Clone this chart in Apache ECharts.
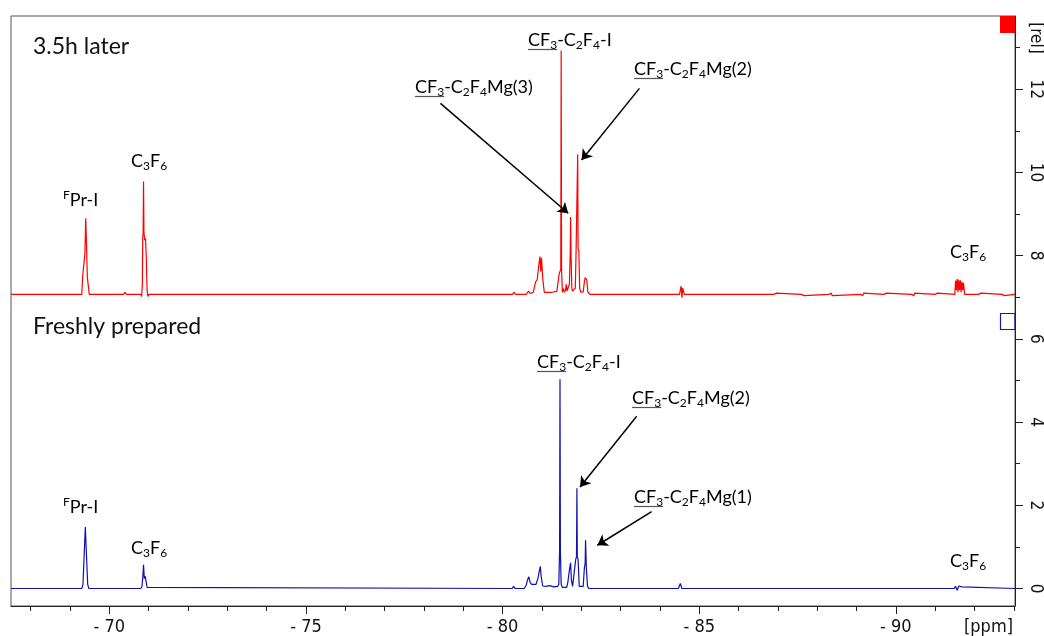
<!DOCTYPE html>
<html>
<head>
<meta charset="utf-8">
<script src="https://cdn.jsdelivr.net/npm/echarts@6/dist/echarts.min.js"></script>
<style>
html, body { margin: 0; padding: 0; background: #fff; }
#nmr { width: 1044px; height: 636px; }
</style>
</head>
<body>
<div id="nmr"></div>
<script>
// 19F spectra: [ppm, intensity], red trace is stacked above the blue one
var redOffset = 7.07;

var redSpectrum = [
  [-67.5, 0], [-69.30, 0], [-69.32, 0.40], [-69.36, 0.42], [-69.38, 1.0], [-69.40, 1.83], [-69.42, 1.2],
  [-69.44, 0.42], [-69.47, 0.40], [-69.49, 0],
  [-70.36, 0], [-70.40, 0.05], [-70.44, 0],
  [-70.80, 0], [-70.82, -0.05], [-70.84, 0.2], [-70.85, 1.4], [-70.86, 1.45], [-70.87, 2.71], [-70.88, 1.5],
  [-70.90, 1.3], [-70.92, 1.35], [-70.94, 0.9], [-70.96, 0.1], [-70.98, -0.05], [-71.01, 0],
  [-80.25, 0], [-80.29, 0.05], [-80.33, 0],
  [-80.60, 0], [-80.66, 0.08], [-80.70, 0.02],
  [-80.78, 0.05], [-80.84, 0.30], [-80.88, 0.35], [-80.92, 0.70], [-80.95, 0.91], [-80.97, 0.55], [-80.99, 0.88],
  [-81.02, 0.40], [-81.06, 0.05], [-81.10, 0.06], [-81.25, 0.05], [-81.38, 0.07], [-81.42, 0.08],
  [-81.44, 0.50], [-81.46, 0.52], [-81.48, 0.6], [-81.49, 5.86], [-81.50, 0.6], [-81.52, 0.05],
  [-81.55, 0.14], [-81.57, 0.05], [-81.60, 0.1], [-81.62, 0.24], [-81.64, 0.08], [-81.67, 0.06],
  [-81.70, 0.25], [-81.72, 1.0], [-81.73, 1.86], [-81.74, 1.0], [-81.76, 0.15], [-81.78, 0.08],
  [-81.85, 0.15], [-81.87, 1.09], [-81.89, 1.12], [-81.91, 3.37], [-81.92, 1.10], [-81.94, 1.05], [-81.96, 0.15],
  [-81.99, 0.05], [-82.05, 0.06], [-82.08, 0.30], [-82.10, 0.40], [-82.12, 0.43], [-82.14, 0.35], [-82.17, 0.05],
  [-82.22, 0],
  [-82.92, 0], [-82.96, 0.04], [-83.0, 0],
  [-84.50, 0], [-84.54, 0.20], [-84.56, -0.08], [-84.58, 0.15], [-84.62, 0],
  [-86.90, 0], [-86.92, 0.03], [-86.94, -0.03], [-86.96, 0.03], [-86.98, 0],
  [-87.60, 0], [-87.62, -0.03], [-87.64, 0.03], [-87.66, -0.03], [-87.68, 0],
  [-88.30, 0], [-88.32, 0.03], [-88.34, -0.03], [-88.36, 0.03], [-88.38, -0.03], [-88.40, 0],
  [-89.10, 0], [-89.12, -0.03], [-89.14, 0.03], [-89.16, -0.03], [-89.18, 0.03], [-89.20, 0],
  [-89.70, 0], [-89.72, 0.03], [-89.74, -0.03], [-89.76, 0.03], [-89.78, 0],
  [-90.40, 0], [-90.42, -0.03], [-90.44, 0.03], [-90.46, -0.03], [-90.48, 0.03], [-90.50, 0],
  [-91.00, 0], [-91.02, 0.03], [-91.04, -0.03], [-91.06, 0.03], [-91.08, 0],
  [-91.50, 0], [-91.52, 0.33], [-91.54, 0.1], [-91.56, 0.37], [-91.58, 0.05], [-91.60, 0.35], [-91.62, 0.1],
  [-91.64, 0.34], [-91.66, 0.05], [-91.68, 0.30], [-91.70, 0.1], [-91.72, 0.28], [-91.75, 0],
  [-92.10, 0], [-92.12, 0.03], [-92.14, -0.03], [-92.16, 0.03], [-92.18, 0],
  [-92.70, 0], [-92.72, -0.03], [-92.74, 0.03], [-92.76, -0.03], [-92.78, 0], [-93.03, 0]
];

var blueSpectrum = [
  [-67.5, 0], [-69.30, 0], [-69.33, 0.1], [-69.35, 0.56], [-69.37, 0.6], [-69.39, 1.48], [-69.41, 1.48],
  [-69.43, 0.56], [-69.45, 0.1], [-69.48, 0],
  [-70.80, 0], [-70.83, 0.05], [-70.85, 0.25], [-70.87, 0.57], [-70.89, 0.24], [-70.91, 0.3], [-70.93, 0.2],
  [-70.96, 0.03], [-70.99, 0],
  [-80.24, 0], [-80.28, 0.05], [-80.32, 0],
  [-80.55, 0], [-80.60, 0.08], [-80.64, 0.22], [-80.67, 0.28], [-80.70, 0.15], [-80.74, 0.10],
  [-80.85, 0.1], [-80.90, 0.25], [-80.94, 0.45], [-80.96, 0.53], [-80.98, 0.3], [-81.02, 0.06],
  [-81.10, 0.05], [-81.20, 0.07], [-81.30, 0.04], [-81.40, 0.05],
  [-81.43, 0.1], [-81.45, 0.92], [-81.46, 5.03], [-81.47, 0.92], [-81.49, 0.1], [-81.52, 0.03],
  [-81.63, 0.03], [-81.66, 0.15], [-81.70, 0.45], [-81.73, 0.62], [-81.75, 0.2], [-81.78, 0.05],
  [-81.83, 0.05], [-81.86, 0.7], [-81.88, 0.76], [-81.89, 2.41], [-81.90, 0.76], [-81.92, 0.7], [-81.95, 0.05],
  [-82.05, 0.05], [-82.08, 0.5], [-82.10, 0.6], [-82.11, 1.16], [-82.13, 0.5], [-82.16, 0.05], [-82.20, 0],
  [-84.47, 0], [-84.52, 0.12], [-84.56, 0],
  [-91.48, 0], [-91.52, 0.05], [-91.56, -0.04], [-91.60, 0.06], [-91.64, 0.02], [-91.68, 0.04], [-91.72, 0],
  [-93.03, 0]
];

var xMajor = [-70, -75, -80, -85, -90];
var xMinor = [-68, -69, -70, -71, -72, -73, -74, -75, -76, -77, -78, -79, -80, -81, -82, -83, -84, -85,
  -86, -87, -88, -89, -90, -91, -92, -93];
var yMajor = [0, 2, 4, 6, 8, 10, 12];
var yMinor = [1, 3, 5, 7, 9, 11, 13];

// arrows: [from, to] in [ppm, rel]
var redArrows = [
  [[-78.42, 11.66], [-81.67, 9.02]],
  [[-83.48, 12.02], [-82.01, 10.30]]
];
var blueArrows = [
  [[-83.41, 4.14], [-81.97, 2.44]],
  [[-83.79, 1.85], [-82.41, 1.04]]
];

var labelFont = 'Lato';
var axisFont = '"DejaVu Sans Condensed", "DejaVu Sans", sans-serif';
var rich = {
  n: { fontSize: 18, fontFamily: labelFont, color: '#111', lineHeight: 22 },
  s: { fontSize: 12, fontFamily: labelFont, color: '#111', lineHeight: 12, verticalAlign: 'bottom' },
  p: { fontSize: 12, fontFamily: labelFont, color: '#111', lineHeight: 12, verticalAlign: 'top' }
};
var txtI = '{n|CF}{s|3}{n|-C}{s|2}{n|F}{s|4}{n|-I}';
function txtMg(k) { return '{n|CF}{s|3}{n|-C}{s|2}{n|F}{s|4}{n|Mg(' + k + ')}'; }
var txtC3F6 = '{n|C}{s|3}{n|F}{s|6}';
var txtPr = '{p|F}{n|Pr-I}';

var ctx = document.createElement('canvas').getContext('2d');
ctx.font = '18px ' + labelFont;
var ulWidth = ctx.measureText('CF').width;
ctx.font = '12px ' + labelFont;
ulWidth += ctx.measureText('3').width;

var graphics = [];
function addLabel(x, y, text, underline) {
  graphics.push({
    type: 'text', x: x, y: y, z: 100,
    style: { text: text, rich: rich, align: 'left', verticalAlign: 'middle', textAlign: 'left', textVerticalAlign: 'middle' }
  });
  if (underline) {
    graphics.push({
      type: 'line', z: 100,
      shape: { x1: x, y1: y + 9.5, x2: x + ulWidth, y2: y + 9.5 },
      style: { stroke: '#555', lineWidth: 1.2 }
    });
  }
}
function addTitle(x, y, text) {
  graphics.push({
    type: 'text', x: x, y: y, z: 100,
    style: { text: text, font: '23px ' + labelFont, fill: '#111', align: 'left', verticalAlign: 'middle', textAlign: 'left', textVerticalAlign: 'middle' }
  });
}

addTitle(33, 47, '3.5h later');
addLabel(63, 200, txtPr);
addLabel(131, 161, txtC3F6);
addLabel(528, 40, txtI, true);
addLabel(415, 87, txtMg(3), true);
addLabel(634, 69, txtMg(2), true);
addLabel(950, 252, txtC3F6);

addTitle(33, 327, 'Freshly prepared');
addLabel(63, 507, txtPr);
addLabel(131, 548, txtC3F6);
addLabel(537, 362, txtI, true);
addLabel(632, 398, txtMg(2), true);
addLabel(634, 497, txtMg(1), true);
addLabel(950, 561, txtC3F6);

// TopSpin style trace markers
graphics.push({ type: 'rect', shape: { x: 1000, y: 16, width: 15, height: 17 }, style: { fill: '#ff0000' } });
graphics.push({ type: 'rect', shape: { x: 1000.5, y: 313.5, width: 14.5, height: 16 }, style: { fill: 'none', stroke: '#1a1aa0', lineWidth: 1.2 } });
graphics.push({
  type: 'text', x: 1035, y: 38, rotation: -Math.PI / 2,
  style: { text: '[rel]', font: '17px ' + axisFont, fill: '#111', align: 'center', verticalAlign: 'middle', textAlign: 'center', textVerticalAlign: 'middle' }
});
graphics.push({
  type: 'text', x: 1013, y: 627,
  style: { text: '[ppm]', font: '18px ' + axisFont, fill: '#111', align: 'right', verticalAlign: 'middle', textAlign: 'right', textVerticalAlign: 'middle' }
});

function arrowData(list) {
  return list.map(function (a) { return [{ coord: a[0] }, { coord: a[1] }]; });
}

var xRange = { min: -93.03, max: -67.5 };
var yRange = { min: -0.42, max: 13.76 };
var axisColor = '#222';

var nmrChart = echarts.init(document.getElementById('nmr'));
var option = {
  animation: false,
  grid: { left: 11, right: 29, top: 16, bottom: 28, show: true, borderColor: '#555', borderWidth: 1 },
  xAxis: [{
    type: 'value', min: xRange.min, max: xRange.max, inverse: true, position: 'bottom',
    axisLine: { onZero: false, lineStyle: { color: axisColor } },
    axisTick: { customValues: xMinor, length: 5, lineStyle: { color: axisColor } },
    axisLabel: { show: false },
    splitLine: { show: false }
  }, {
    type: 'value', min: xRange.min, max: xRange.max, inverse: true, position: 'bottom',
    axisLine: { show: false, onZero: false },
    axisTick: { customValues: xMajor, length: 8, lineStyle: { color: axisColor } },
    axisLabel: {
      customValues: xMajor, margin: 12, fontSize: 18, fontFamily: axisFont, color: '#111',
      formatter: function (v) { return '- ' + Math.abs(v); }
    },
    splitLine: { show: false }
  }],
  yAxis: [{
    type: 'value', min: yRange.min, max: yRange.max, position: 'right',
    axisLine: { show: true, onZero: false, lineStyle: { color: axisColor } },
    axisTick: { show: true, customValues: yMajor, length: 8, lineStyle: { color: axisColor } },
    axisLabel: { customValues: yMajor, rotate: -90, margin: 12, fontSize: 17, fontFamily: axisFont, color: '#111' },
    splitLine: { show: false }
  }, {
    type: 'value', min: yRange.min, max: yRange.max, position: 'right',
    axisLine: { show: false, onZero: false },
    axisTick: { show: true, customValues: yMinor, length: 5, lineStyle: { color: axisColor } },
    axisLabel: { show: false },
    splitLine: { show: false }
  }],
  series: [{
    name: '3.5h later', type: 'line', xAxisIndex: 0, yAxisIndex: 0,
    data: redSpectrum.map(function (p) { return [p[0], p[1] + redOffset]; }),
    showSymbol: false, lineStyle: { color: '#ff0000', width: 1.2 },
    markLine: {
      silent: true, symbol: ['none', 'arrow'], symbolSize: 10,
      lineStyle: { color: '#000', width: 1.5, type: 'solid' }, label: { show: false },
      data: arrowData(redArrows)
    }
  }, {
    name: 'Freshly prepared', type: 'line', xAxisIndex: 0, yAxisIndex: 0,
    data: blueSpectrum,
    showSymbol: false, lineStyle: { color: '#1010b0', width: 1.2 },
    markLine: {
      silent: true, symbol: ['none', 'arrow'], symbolSize: 10,
      lineStyle: { color: '#000', width: 1.5, type: 'solid' }, label: { show: false },
      data: arrowData(blueArrows)
    }
  }],
  graphic: graphics
};
nmrChart.setOption(option);
</script>
</body>
</html>
